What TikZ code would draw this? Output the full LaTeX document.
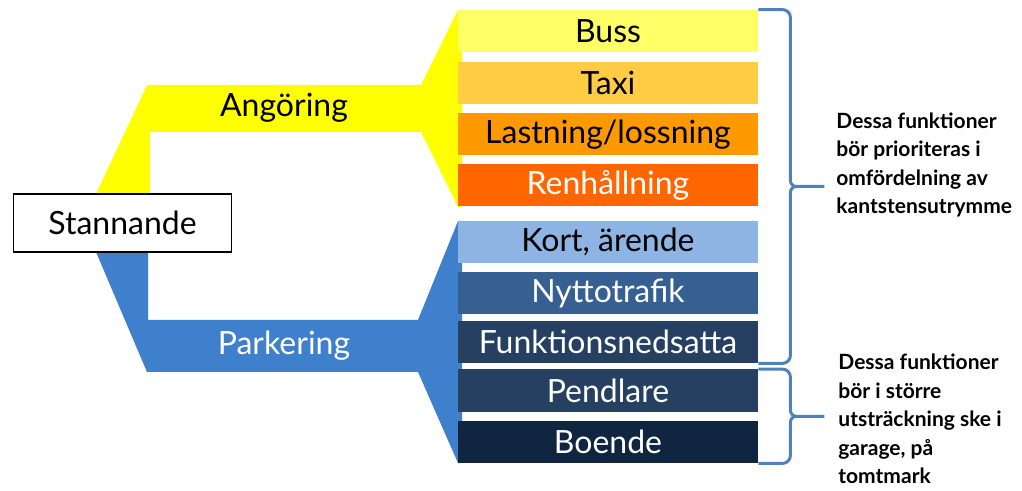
\documentclass[tikz,border=0pt]{standalone}
\usepackage{fontspec}
\setmainfont{Lato}
\usepackage{tikz}
\usetikzlibrary{calc}
\definecolor{cyellow}{HTML}{FFFF00}
\definecolor{cblue}{HTML}{3F80CC}
\definecolor{cbuss}{HTML}{FFFF66}
\definecolor{ctaxi}{HTML}{FFCC44}
\definecolor{clast}{HTML}{FF9900}
\definecolor{crenh}{HTML}{FF6600}
\definecolor{ckort}{HTML}{8EB4E3}
\definecolor{cnytto}{HTML}{376092}
\definecolor{cfunk}{HTML}{254061}
\definecolor{cboende}{HTML}{10253F}
\definecolor{cbrace}{HTML}{4F81BD}
\tikzset{
  itembox/.style={minimum width=150pt, minimum height=21pt, inner sep=0pt,
                  font=\fontsize{16}{18}\selectfont},
  startbox/.style={draw=black, line width=0.8pt, fill=white, minimum width=109pt,
                   minimum height=29pt, inner sep=0pt, font=\fontsize{16}{18}\selectfont},
  lbl/.style={font=\fontsize{16}{18}\selectfont, inner sep=0pt},
  note/.style={font=\bfseries\fontsize{10.5}{14.2}\selectfont, align=left,
               anchor=west, inner sep=0pt},
  brc/.style={draw=cbrace, line width=1.5pt},
}
\newcommand{\sidebrace}[2]{%
  \draw[brc] let \p1=(#1), \p2=(#2), \p3=($(#1)!0.5!(#2)$) in
    (\p1) -- (\x1+12pt,\y1) to[out=0,in=90] (\x1+16pt,\y1-4pt)
    -- (\x1+16pt,\y3+3pt) to[out=-90,in=180] (\x1+19pt,\y3) -- (\x1+33pt,\y3)
    (\x1+19pt,\y3) to[out=180,in=90] (\x1+16pt,\y3-3pt)
    -- (\x1+16pt,\y2+4pt) to[out=-90,in=0] (\x1+12pt,\y2) -- (\p2);
}
\begin{document}
\begin{tikzpicture}[x=0.5pt, y=-0.5pt]
  \useasboundingbox (0,0) rectangle (1022,491);

  % Grenar
  \fill[cyellow] (96,194) -- (147,85) -- (421,85) -- (458,10) -- (462,10)
    -- (462,207) -- (458,207) -- (421,132) -- (150,132) -- (150,194) -- cycle;
  \fill[cblue] (96,252) -- (148,252) -- (148,320) -- (418,320) -- (458,221)
    -- (462,221) -- (462,463) -- (458,463) -- (418,372) -- (147,372) -- cycle;
  \node[lbl] (ang) at (284,108) {Angöring};
  \node[lbl, text=white] (park) at (284,346) {Parkering};

  \node[startbox] (stann) at (122.5,223) {Stannande};

  % Funktioner
  \node[itembox, fill=cbuss] (buss) at (608,31) {Buss};
  \node[itembox, fill=ctaxi] (taxi) at (608,83) {Taxi};
  \node[itembox, fill=clast] (last) at (608,134.5) {Lastning/lossning};
  \node[itembox, fill=crenh, text=white] (renh) at (608,185.5) {Renhållning};
  \node[itembox, fill=ckort] (kort) at (608,242) {Kort, ärende};
  \node[itembox, fill=cnytto, text=white] (nytto) at (608,293) {Nyttotrafik};
  \node[itembox, fill=cfunk, text=white] (funk) at (608,342) {Funktionsnedsatta};
  \node[itembox, fill=cfunk, text=white] (pend) at (608,390.5) {Pendlare};
  \node[itembox, fill=cboende, text=white] (boende) at (608,442) {Boende};

  % Klamrar
  \sidebrace{buss.north east}{funk.south east}
  \sidebrace{pend.north east}{boende.south east}

  \node[note] (n1) at (836,165)
    {Dessa funktioner\\bör prioriteras i\\omfördelning av\\kantstensutrymme};
  \node[note] (n2) at (838,419)
    {Dessa funktioner\\bör i större\\utsträckning ske i\\garage, på\\tomtmark};
\end{tikzpicture}
\end{document}
